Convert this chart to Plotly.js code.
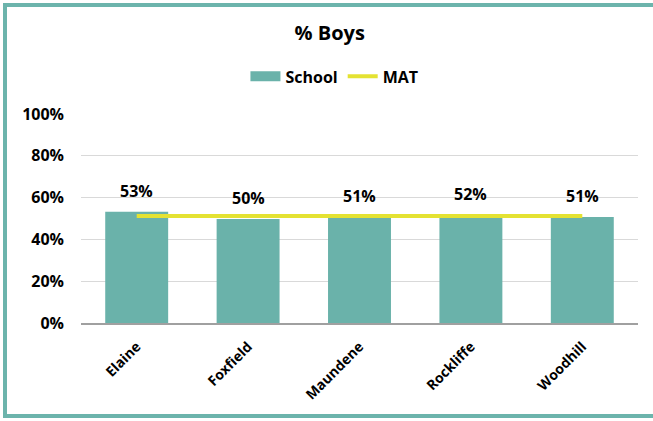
<!DOCTYPE html>
<html>
<head>
<meta charset="utf-8">
<script src="https://cdn.plot.ly/plotly-3.0.1.min.js"></script>
<style>
  html, body { margin: 0; padding: 0; background: #fff; }
  #wrap { position: relative; width: 653px; height: 421px; overflow: hidden; }
  #chart { width: 653px; height: 421px; }
  #frame { position: absolute; left: 3px; top: 3px; width: 660px; height: 407px;
           border: 4px solid #6CB4AC; pointer-events: none; }
</style>
</head>
<body>
<div id="wrap">
  <div id="chart"></div>
  <div id="frame"></div>
</div>
<script>
const categories = ["Elaine", "Foxfield", "Maundene", "Rockliffe", "Woodhill"];
const schoolValues = [0.532, 0.498, 0.508, 0.516, 0.507];
const schoolLabels = ["53%", "50%", "51%", "52%", "51%"];
const matValues = [0.512, 0.512, 0.512, 0.512, 0.512];
const yTickVals = [0, 0.2, 0.4, 0.6, 0.8, 1.0];
const yTickText = ["0%", "20%", "40%", "60%", "80%", "100%"];

const FONT = "Open Sans, Noto Sans, sans-serif";
const TEAL = "#6AB2AA";

const traces = [
  {
    type: "bar",
    name: "School",
    x: categories,
    y: schoolValues,
    marker: { color: TEAL },
    width: 0.565,
    showlegend: false,
    hoverinfo: "skip"
  },
  {
    // legend proxy for School (wide block symbol)
    type: "scatter",
    mode: "lines",
    name: "School",
    x: categories,
    y: categories.map(() => null),
    line: { color: TEAL, width: 10 },
    hoverinfo: "skip"
  },
  {
    type: "scatter",
    mode: "lines",
    name: "MAT",
    x: categories,
    y: matValues,
    line: { color: "#E4E232", width: 4 },
    hoverinfo: "skip"
  }
];

const annotations = categories.map((c, i) => ({
  x: c, y: schoolValues[i], xref: "x", yref: "y",
  text: "<b>" + schoolLabels[i] + "</b>",
  showarrow: false, yanchor: "bottom", yshift: 8,
  font: { family: FONT, size: 16, color: "#000" }
}));

const layout = {
  width: 653, height: 421,
  margin: { l: 81, r: 15, t: 114, b: 98 },
  paper_bgcolor: "#fff",
  plot_bgcolor: "#fff",
  title: {
    text: "<b>% Boys</b>",
    font: { family: FONT, size: 20, color: "#000" },
    x: 0.505, xanchor: "center", y: 0.922, yanchor: "middle"
  },
  showlegend: true,
  legend: {
    orientation: "h", x: 0.455, xanchor: "center", y: 1.18, yanchor: "middle",
    font: { family: FONT, size: 16, color: "#000", weight: "bold" },
    itemwidth: 30, traceorder: "normal"
  },
  xaxis: {
    type: "category",
    tickangle: -45,
    tickfont: { family: FONT, size: 14, color: "#000", weight: "bold" },
    showline: true, linecolor: "#A0A0A0", linewidth: 2,
    showgrid: false, ticks: "", ticklabelstandoff: 8, fixedrange: true
  },
  yaxis: {
    range: [0, 1.0],
    tickvals: yTickVals, ticktext: yTickText,
    tickfont: { family: FONT, size: 16, color: "#000", weight: "bold" },
    showgrid: true, gridcolor: "#D9D9D9", gridwidth: 1,
    zeroline: false, showline: false, ticks: "",
    ticklabelstandoff: 16, fixedrange: true
  },
  annotations: annotations,
  bargap: 0.435
};

Plotly.newPlot("chart", traces, layout, { displayModeBar: false, staticPlot: true });
</script>
</body>
</html>
